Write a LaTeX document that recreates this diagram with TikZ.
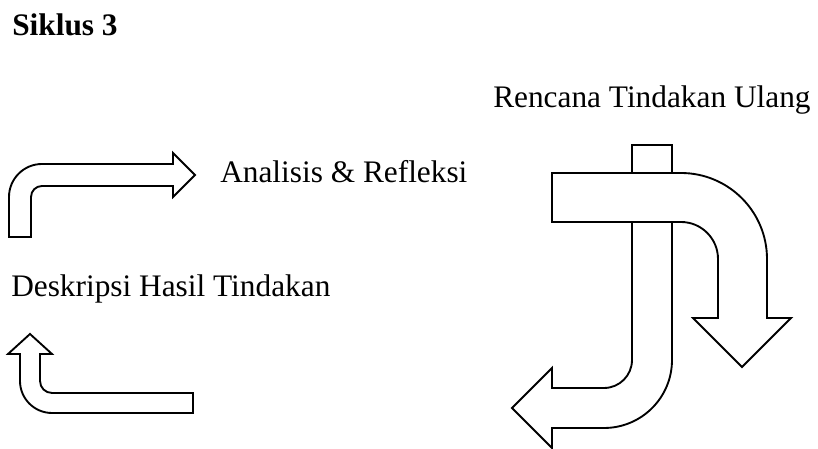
\documentclass[tikz,border=0pt]{standalone}
\usepackage{fontspec}
\setmainfont{Liberation Serif}
\tikzset{
    blockarrow/.style={draw=black, fill=white, line width=1.4pt, line join=miter},
    lbl/.style={anchor=base west, inner sep=0pt, font=\fontsize{23.5pt}{28pt}\selectfont}
}
\begin{document}
\begin{tikzpicture}[x=0.75pt, y=0.75pt]
        \useasboundingbox (0,0) rectangle (818,449);

        % The title
        \node[lbl, font=\fontsize{23.5pt}{28pt}\selectfont\bfseries] (siklus) at (12,413) {Siklus 3};

        % The labels of the steps
        \node[lbl] (rencana) at (493,341) {Rencana Tindakan Ulang};
        \node[lbl] (analisis) at (220,266) {Analisis \& Refleksi};
        \node[lbl] (deskripsi) at (11,152) {Deskripsi Hasil Tindakan};

        % the bent arrow to the right (Analisis)
        \draw[blockarrow] (9,212) -- (9,252) arc[start angle=180, end angle=90, radius=33]
            -- (173,285) -- (173,296) -- (195,274) -- (173,252) -- (173,263)
            -- (42,263) arc[start angle=90, end angle=180, radius=11] -- (31,212) -- cycle;

        % the bent arrow upwards (Deskripsi)
        \draw[blockarrow] (193,36) -- (52,36) arc[start angle=270, end angle=180, radius=32]
            -- (20,95) -- (8,95) -- (30,115) -- (52,95) -- (40,95)
            -- (40,68) arc[start angle=180, end angle=270, radius=12] -- (193,56) -- cycle;

        % the J arrow to the left, under the bar
        \draw[blockarrow] (632,304) -- (632,89) arc[start angle=0, end angle=-90, radius=28]
            -- (552,61) -- (552,81) -- (512,41) -- (552,1) -- (552,21)
            -- (604,21) arc[start angle=-90, end angle=0, radius=68] -- (672,304) -- cycle;

        % the bar bending down, drawn over the J arrow
        \draw[blockarrow] (552,276) -- (681,276) arc[start angle=90, end angle=0, radius=86]
            -- (767,131) -- (791,131) -- (742,82) -- (693,131) -- (718,131)
            -- (718,190) arc[start angle=0, end angle=90, radius=37] -- (552,227) -- cycle;
    \end{tikzpicture}
\end{document}
